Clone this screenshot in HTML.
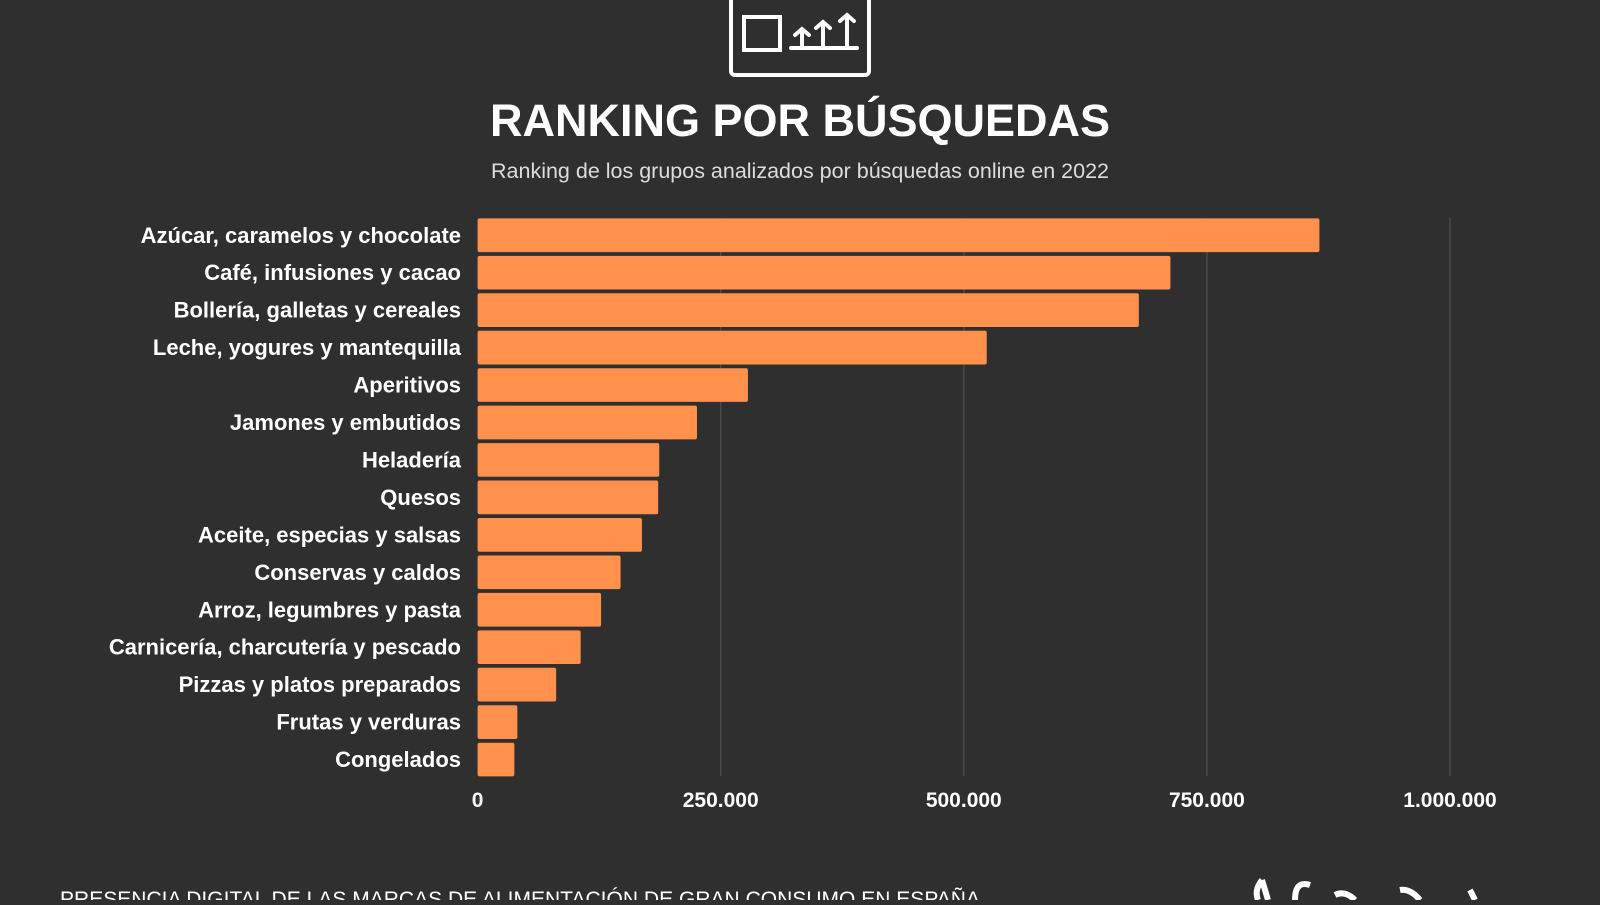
<!DOCTYPE html>
<html><head><meta charset="utf-8"><style>
body{margin:0;width:1600px;height:900px;background:#2f2f2f;overflow:hidden;font-family:"Liberation Sans",sans-serif;color:#fff}
</style></head><body>
<svg width="1600" height="900">
<g fill="none" stroke="#fff" stroke-width="4" stroke-linecap="round">
<rect x="731" y="-10" width="138" height="85" rx="4"/>
<rect x="744" y="17" width="36" height="33"/>
<line x1="791" y1="48" x2="857" y2="48"/>
<line x1="802" y1="48" x2="802" y2="31"/><line x1="823" y1="48" x2="823" y2="24"/><line x1="847" y1="48" x2="847" y2="17"/>
<path d="M795 35 L802 29 L809 35 M816 28 L823 22 L830 28 M840 21 L847 15 L854 21"/>
</g>
<text x="800" y="136" text-anchor="middle" font-size="45" font-weight="bold" fill="#fff">RANKING POR BÚSQUEDAS</text>
<text x="800" y="178" text-anchor="middle" font-size="21.5" fill="#ddd">Ranking de los grupos analizados por búsquedas online en 2022</text>
<g id="grid"></g><g id="bars"></g><g id="labels"></g><g id="ticks"></g>
<text x="60" y="906" font-size="21" fill="#fff" textLength="920">PRESENCIA DIGITAL DE LAS MARCAS DE ALIMENTACIÓN  DE GRAN CONSUMO EN ESPAÑA</text>
<path d="M1262 880 q-8 10 -4 20 M1262 880 l6 20 M1310 885 q-15 -5 -15 15 M1335 895 q10 -5 20 5 M1400 890 q10 -2 20 10 M1470 890 l5 10" stroke="#fff" stroke-width="6" fill="none"/>
</svg>
<script>
const categories=["Azúcar, caramelos y chocolate","Café, infusiones y cacao","Bollería, galletas y cereales","Leche, yogures y mantequilla","Aperitivos","Jamones y embutidos","Heladería","Quesos","Aceite, especias y salsas","Conservas y caldos","Arroz, legumbres y pasta","Carnicería, charcutería y pescado","Pizzas y platos preparados","Frutas y verduras","Congelados"];
const values=[865700,712500,680000,523600,278000,225600,186800,185700,169000,147000,127000,106000,80800,40900,37800];
const tickValues=[0,250000,500000,750000,1000000];
const tickLabels=["0","250.000","500.000","750.000","1.000.000"];
const NS="http://www.w3.org/2000/svg";
const x0=477.6,x1=1450,yTop=218.4,pitch=37.45,bh=33.7;
const xs=v=>x0+(x1-x0)*v/1000000;
const ys=i=>yTop+i*pitch;
function mk(t,a,p){const e=document.createElementNS(NS,t);for(const k in a)e.setAttribute(k,a[k]);document.getElementById(p).appendChild(e);return e;}
tickValues.forEach((v,i)=>{
 if(i>0){const g=mk("line",{x1:xs(v),x2:xs(v),y1:218,y2:776,stroke:"#4a4a4a","stroke-width":1.5},"grid");
 
 }
 const t=mk("text",{x:xs(v),y:807,"text-anchor":"middle","font-size":21,"font-weight":"bold",fill:"#fff"},"ticks");t.textContent=tickLabels[i];
 
 
});
categories.forEach((c,i)=>{
 const r=mk("rect",{x:x0,y:ys(i),width:xs(values[i])-x0,height:bh,fill:"#ff914d",rx:2},"bars");
 
 
 const t=mk("text",{x:461,y:ys(i)+bh/2+7.5,"text-anchor":"end","font-size":22,"font-weight":"bold",fill:"#fff"},"labels");t.textContent=c;
 
 
});
</script>
</body></html>
